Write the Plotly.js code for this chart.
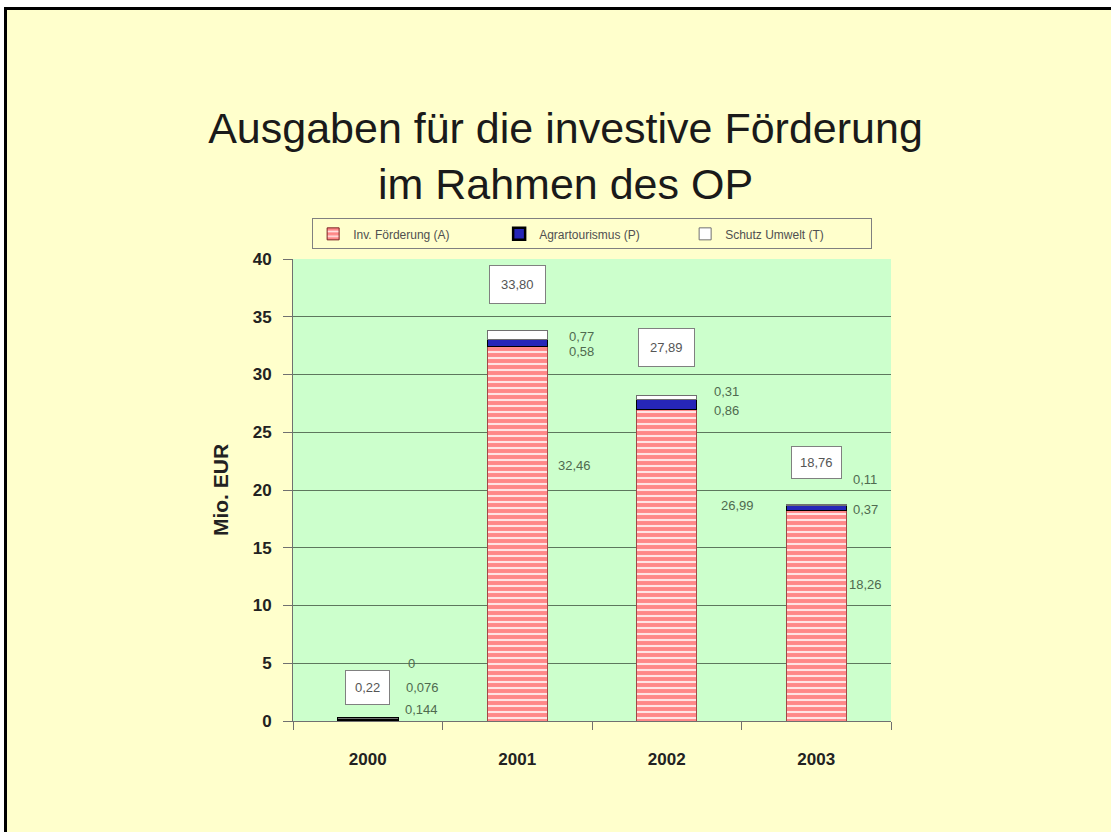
<!DOCTYPE html>
<html>
<head>
<meta charset="utf-8">
<script src="https://cdn.plot.ly/plotly-3.0.1.min.js"></script>
<style>
  html, body { margin: 0; padding: 0; background: #ffffff; }
  #chart { position: absolute; left: 0; top: 0; width: 1111px; height: 832px; }
  .ov { position: absolute; pointer-events: none; }
</style>
</head>
<body>
<div id="chart"></div>
<div class="ov" style="left:0;top:0;width:1111px;height:7px;background:#fff;"></div>
<div class="ov" style="left:0;top:0;width:4px;height:832px;background:#fff;"></div>
<div class="ov" style="left:4px;top:7px;width:1107px;height:3px;background:#000;"></div>
<div class="ov" style="left:4px;top:7px;width:3px;height:825px;background:#000;"></div>
<script>
// ---- data ----
const years = ['2000', '2001', '2002', '2003'];
const invFoerderung = [0.144, 32.46, 26.99, 18.26];   // (A)
const agrartourismus = [0.076, 0.58, 0.86, 0.37];     // (P)
const schutzUmwelt = [0, 0.77, 0.31, 0.11];           // (T)
const totals = [0.22, 33.80, 27.89, 18.76];
const seriesNames = ['Inv. Förderung (A)', 'Agrartourismus (P)', 'Schutz Umwelt (T)'];

// ---- label placement (layout only) ----
// y positions (axis units) for the value labels, and horizontal offsets in px
const labelYA = [1.0, 22.1, 18.7, 11.8];
const labelYP = [2.9, 32.0, 26.9, 18.3];
const labelYT = [5.0, 33.3, 28.5, 20.9];
const labelShiftA = [54, 57, 71, 49];
const labelShiftP = [55, 64, 60, 49];
const labelShiftT = [44, 64, 60, 49];
const totalY = [2.9, 37.8, 32.3, 22.4];
const totalPad = [9, 11, 11, 8];
const outlineA = ['#7a2020', '#a04848', '#a04848', '#a04848'];
const outlineWidthP = [2.5, 1, 1, 1];

const fmt = v => v === 0 ? '0' : String(v).replace('.', ',');
const fmtTotal = v => v.toFixed(2).replace('.', ',');

const FONT = 'Arial, "Liberation Sans", sans-serif';

const traces = [
  {
    type: 'bar', name: seriesNames[0], x: years, y: invFoerderung,
    width: 0.4,
    marker: {
      color: '#ff8c8c',
      line: { color: outlineA, width: 1 },
      pattern: { shape: '-', fillmode: 'replace', bgcolor: '#ff8888', fgcolor: '#ffe4e4', size: 6, solidity: 0.35 }
    },
    hoverinfo: 'skip'
  },
  {
    type: 'bar', name: seriesNames[1], x: years, y: agrartourismus,
    width: 0.4,
    marker: { color: '#2626b8', line: { color: '#000000', width: outlineWidthP } },
    hoverinfo: 'skip'
  },
  {
    type: 'bar', name: seriesNames[2], x: years, y: schutzUmwelt,
    width: 0.4,
    marker: { color: '#ffffff', line: { color: '#707070', width: 1 } },
    hoverinfo: 'skip'
  }
];

const annotations = [];
const labelFont = { family: FONT, size: 13, color: '#4f6a4f' };
for (let i = 0; i < years.length; i++) {
  annotations.push({ x: i, y: labelYA[i], xref: 'x', yref: 'y', text: fmt(invFoerderung[i]),
    showarrow: false, xshift: labelShiftA[i], font: labelFont });
  annotations.push({ x: i, y: labelYP[i], xref: 'x', yref: 'y', text: fmt(agrartourismus[i]),
    showarrow: false, xshift: labelShiftP[i], font: labelFont });
  annotations.push({ x: i, y: labelYT[i], xref: 'x', yref: 'y', text: fmt(schutzUmwelt[i]),
    showarrow: false, xshift: labelShiftT[i], font: labelFont });
  annotations.push({ x: i, y: totalY[i], xref: 'x', yref: 'y', text: fmtTotal(totals[i]),
    showarrow: false, bgcolor: '#ffffff', bordercolor: '#808080', borderwidth: 1, borderpad: totalPad[i],
    font: { family: FONT, size: 13, color: '#555555' } });
}

const layout = {
  width: 1111, height: 832,
  paper_bgcolor: '#ffffcc',
  plot_bgcolor: '#ccffcc',
  margin: { l: 293, r: 220, t: 259, b: 111 },
  barmode: 'stack',
  showlegend: true,
  title: {
    text: 'Ausgaben für die investive Förderung<br>im Rahmen des OP',
    x: 0.509, xanchor: 'center', y: 0.828, yanchor: 'middle', yref: 'container',
    font: { family: FONT, size: 43, color: '#1a1a1a' }
  },
  legend: {
    orientation: 'h', x: 0.032, xanchor: 'left', y: 1.088, yanchor: 'top',
    bgcolor: '#ffffcc', bordercolor: '#808080', borderwidth: 1,
    font: { family: FONT, size: 12, color: '#505050' },
    entrywidth: 141, entrywidthmode: 'pixels',
    itemwidth: 30, traceorder: 'normal'
  },
  xaxis: {
    type: 'category', range: [-0.5, 3.5],
    showgrid: false, zeroline: false,
    showline: true, linecolor: '#707070', linewidth: 1,
    ticks: 'outside', tickson: 'boundaries', ticklen: 8, tickcolor: '#707070',
    ticklabelstandoff: 23,
    tickfont: { family: FONT, size: 17, color: '#222222', weight: 'bold' }
  },
  yaxis: {
    range: [0, 40], dtick: 5, tick0: 0,
    showgrid: true, gridcolor: '#5d775d', gridwidth: 1,
    zeroline: false,
    showline: true, linecolor: '#707070', linewidth: 1,
    ticks: 'outside', ticklen: 9, tickcolor: '#707070',
    ticklabelstandoff: 8,
    tickfont: { family: FONT, size: 17, color: '#222222', weight: 'bold' },
    title: { text: 'Mio. EUR', standoff: 18, font: { family: FONT, size: 21, color: '#222222', weight: 'bold' } }
  },
  annotations: annotations
};

Plotly.newPlot('chart', traces, layout, { staticPlot: true, displayModeBar: false });
</script>
</body>
</html>
